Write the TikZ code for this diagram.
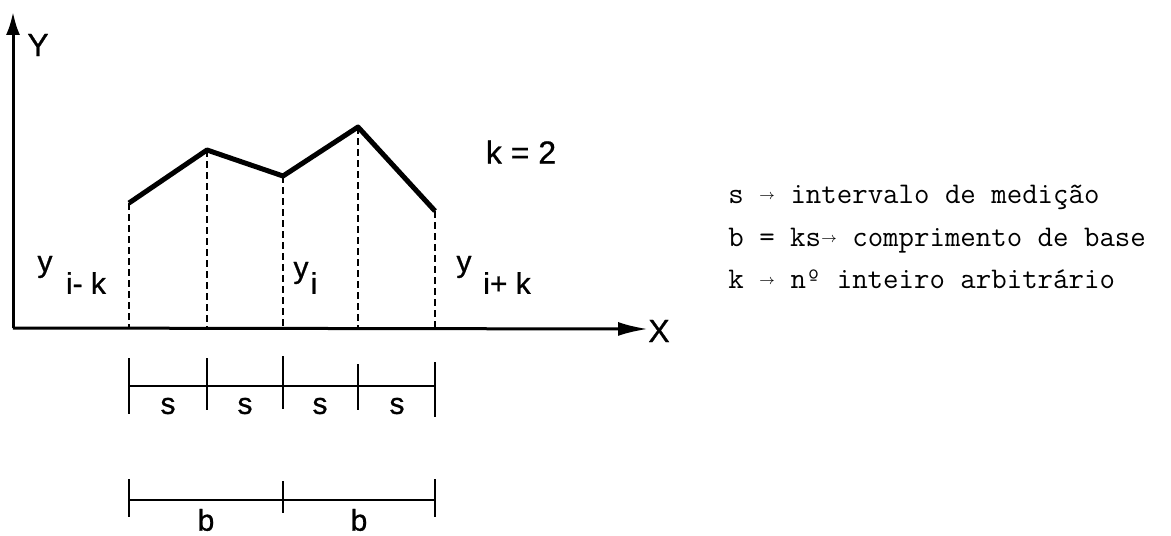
\documentclass[tikz,border=0pt]{standalone}
\usepackage{fontspec}
\newfontfamily\lsans[FakeBold=0.8]{Liberation Sans}
\setmonofont{Latin Modern Mono}
\usetikzlibrary{arrows.meta}
\newcommand\smarrow{\makebox[0.525em]{\raisebox{2pt}{\fontsize{7}{7}\selectfont$\rightarrow$}}}
\begin{document}
\begin{tikzpicture}[x=0.5pt,y=-0.5pt,
  axis/.style={line width=1.5pt},
  profile/.style={line width=2.5pt, line join=round},
  guide/.style={line width=1pt, dash pattern=on 3.5pt off 2pt},
  scaleline/.style={line width=1pt},
  lbl/.style={font=\lsans\fontsize{15}{15}\selectfont, inner sep=0pt},
  biglbl/.style={font=\lsans\fontsize{16}{16}\selectfont, inner sep=0pt},
  legend/.style={font=\ttfamily\fontsize{15}{15}\selectfont, inner sep=0pt, anchor=base west}]
\useasboundingbox (0,0) rectangle (1171,535);
% axes
\coordinate (O) at (13,328);
\coordinate (Ytip) at (13,12);
\coordinate (Xtip) at (648,329);
\draw[axis,-{Latex[length=11.5pt,width=7pt]}] (O) -- (Ytip);
\draw[axis,-{Latex[length=15pt,width=7pt]}] (O) -- (Xtip);
\node[biglbl] (ylab) at (38,45) {Y};
\node[biglbl] (xlab) at (659,331) {X};
% profile points and feet
\coordinate (p0) at (129,203);
\coordinate (p1) at (207,150);
\coordinate (p2) at (283,176);
\coordinate (p3) at (358,127);
\coordinate (p4) at (435,211);
\coordinate (f0) at (129,328);
\coordinate (f1) at (207,328);
\coordinate (f2) at (283,328);
\coordinate (f3) at (358,328);
\coordinate (f4) at (435,328);
\foreach \i in {0,...,4} \draw[guide] (p\i) -- (f\i);
\draw[profile] (p0) -- (p1) -- (p2) -- (p3) -- (p4);
% labels of ordinates
\node[lbl] (ya) at (45,267) {y};
\node[lbl] (ya2) at (86,283) {i- k};
\node[lbl] (yb) at (301,273) {y};
\node[lbl] (yb2) at (314,283) {i};
\node[lbl] (yc) at (464,267) {y};
\node[lbl] (yc2) at (507,283) {i+ k};
\node[biglbl] (kk) at (521,152) {k = 2};
% s scale
\coordinate (st0) at (129,358); \coordinate (sb0) at (129,414);
\coordinate (st1) at (207,358); \coordinate (sb1) at (207,410);
\coordinate (st2) at (283,356); \coordinate (sb2) at (283,409);
\coordinate (st3) at (358,364); \coordinate (sb3) at (358,410);
\coordinate (st4) at (435,362); \coordinate (sb4) at (435,417);
\coordinate (sl0) at (129,386); \coordinate (sl4) at (435,386);
\foreach \i in {0,...,4} \draw[scaleline] (st\i) -- (sb\i);
\draw[scaleline] (sl0) -- (sl4);
\node[lbl] (s1) at (168,406) {s};
\node[lbl] (s2) at (245,406) {s};
\node[lbl] (s3) at (320,406) {s};
\node[lbl] (s4) at (397,406) {s};
% b scale
\coordinate (bt0) at (129,479); \coordinate (bb0) at (129,517);
\coordinate (bt1) at (283,481); \coordinate (bb1) at (283,513);
\coordinate (bt2) at (435,479); \coordinate (bb2) at (435,517);
\coordinate (bl0) at (129,500); \coordinate (bl2) at (435,500);
\foreach \i in {0,1,2} \draw[scaleline] (bt\i) -- (bb\i);
\draw[scaleline] (bl0) -- (bl2);
\node[lbl] (b1) at (206,520) {b};
\node[lbl] (b2) at (359,520) {b};
% legend
\node[legend] (l1) at (728,203) {s \smarrow{} intervalo de medição};
\node[legend] (l2) at (728,246) {b = ks\smarrow{} comprimento de base};
\node[legend] (l3) at (728,288) {k \smarrow{} nº inteiro arbitrário};
\end{tikzpicture}
\end{document}
